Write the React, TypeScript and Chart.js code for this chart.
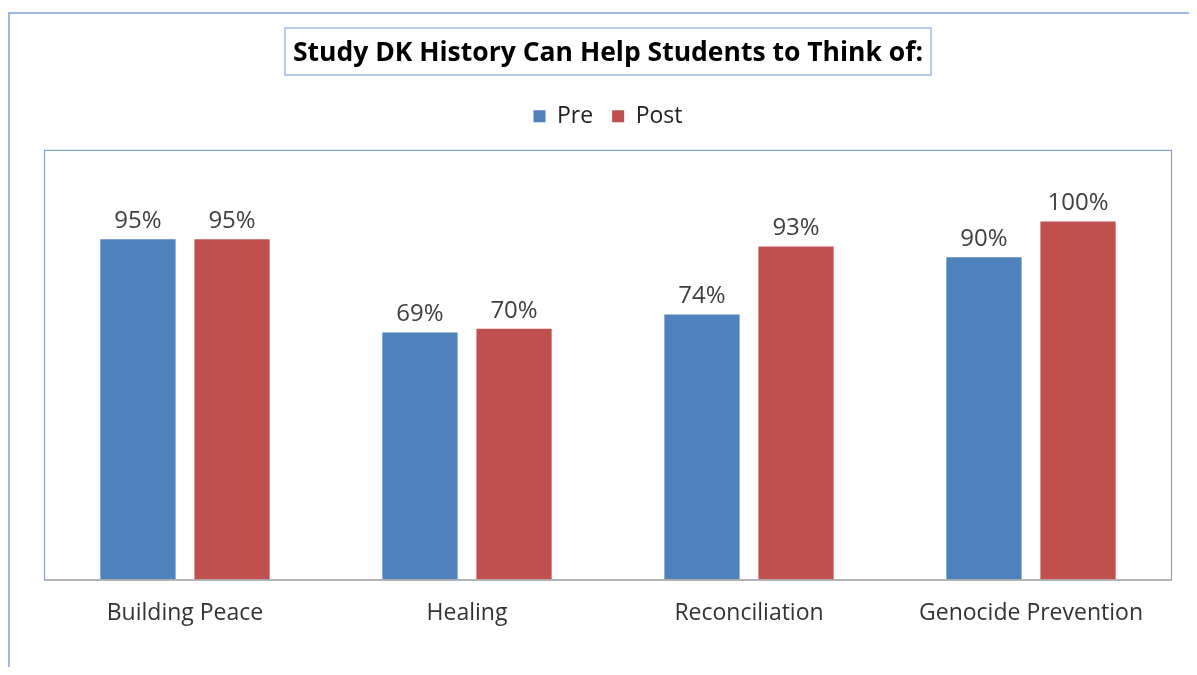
import React, { useEffect, useRef } from "react";
import { Chart, registerables } from "chart.js";

Chart.register(...registerables);

const categories = ["Building Peace", "Healing", "Reconciliation", "Genocide Prevention"];
const preValues = [95, 69, 74, 90];
const postValues = [95, 70, 93, 100];
const seriesNames = ["Pre", "Post"];
const titleText = "Study DK History Can Help Students to Think of:";

const FONT = "'Open Sans', 'Noto Sans', sans-serif";
const TITLE_SIZE = 26.5;

const decorPlugin = {
  id: "decor",
  beforeInit(chart: any) {
    const legend = chart.legend;
    if (legend) {
      const origFit = legend.fit;
      legend.fit = function () {
        origFit.call(this);
        this.height += 12;
      };
    }
  },
  afterDraw(chart: any) {
    const ctx = chart.ctx;
    const area = chart.chartArea;
    ctx.save();
    // outer border
    ctx.strokeStyle = "#9db8e4";
    ctx.lineWidth = 2;
    ctx.strokeRect(1, 5, 1400, 1000);
    // plot area border
    ctx.strokeStyle = "#86a5d6";
    ctx.lineWidth = 1.2;
    ctx.beginPath();
    ctx.moveTo(area.left + 0.5, area.bottom);
    ctx.lineTo(area.left + 0.5, area.top + 0.5);
    ctx.lineTo(area.right - 0.5, area.top + 0.5);
    ctx.lineTo(area.right - 0.5, area.bottom);
    ctx.stroke();
    // x axis line
    ctx.strokeStyle = "#9a9a9a";
    ctx.lineWidth = 1.5;
    ctx.beginPath();
    ctx.moveTo(area.left, area.bottom + 0.5);
    ctx.lineTo(area.right, area.bottom + 0.5);
    ctx.stroke();
    // title box
    const tb = chart.titleBlock;
    if (tb) {
      ctx.font = `bold ${TITLE_SIZE}px ${FONT}`;
      const w = ctx.measureText(titleText).width;
      const cx = (tb.left + tb.right) / 2;
      ctx.strokeStyle = "#b9cbea";
      ctx.lineWidth = 2;
      ctx.strokeRect(cx - w / 2 - 8, 20, w + 16, 47);
    }
    ctx.restore();
  },
  afterDatasetsDraw(chart: any) {
    const ctx = chart.ctx;
    ctx.save();
    ctx.font = `24px ${FONT}`;
    ctx.fillStyle = "#404040";
    ctx.textAlign = "center";
    ctx.textBaseline = "alphabetic";
    chart.data.datasets.forEach((ds: any, di: number) => {
      const meta = chart.getDatasetMeta(di);
      meta.data.forEach((bar: any, i: number) => {
        ctx.fillText(ds.data[i] + "%", bar.x, bar.y - 11);
      });
    });
    ctx.restore();
  },
};

export default function App() {
  const canvasRef = useRef<HTMLCanvasElement | null>(null);

  useEffect(() => {
    if (!canvasRef.current) return;
    const chart = new Chart(canvasRef.current, {
      type: "bar",
      data: {
        labels: categories,
        datasets: [
          {
            label: seriesNames[0],
            data: preValues,
            backgroundColor: "#4f81bd",
            borderWidth: 0,
            categoryPercentage: 0.667,
            barPercentage: 0.8,
          },
          {
            label: seriesNames[1],
            data: postValues,
            backgroundColor: "#c0504d",
            borderWidth: 0,
            categoryPercentage: 0.667,
            barPercentage: 0.8,
          },
        ],
      },
      options: {
        responsive: false,
        maintainAspectRatio: false,
        animation: false,
        layout: { padding: { left: 36, right: 25, top: 0, bottom: 28 } },
        plugins: {
          title: {
            display: true,
            text: titleText,
            color: "#000000",
            font: { family: FONT, size: TITLE_SIZE, weight: "bold", lineHeight: 1.2 },
            padding: { top: 30, bottom: 16 },
          },
          legend: {
            display: true,
            position: "top",
            labels: {
              boxWidth: 12,
              boxHeight: 12,
              padding: 19,
              color: "#222222",
              font: { family: FONT, size: 23 },
            },
          },
          tooltip: { enabled: false },
        },
        scales: {
          x: {
            grid: { display: false, drawTicks: false },
            border: { display: false },
            ticks: {
              color: "#333333",
              padding: 20,
              font: { family: FONT, size: 23, lineHeight: 1.2 },
            },
          },
          y: {
            display: false,
            min: 0,
            max: 120,
          },
        },
      },
      plugins: [decorPlugin],
    });
    return () => chart.destroy();
  }, []);

  return (
    <div style={{ width: 1189, height: 667, overflow: "hidden", marginBottom: -8 }}>
      <canvas ref={canvasRef} width={1189} height={667} style={{ display: "block" }} />
    </div>
  );
}
